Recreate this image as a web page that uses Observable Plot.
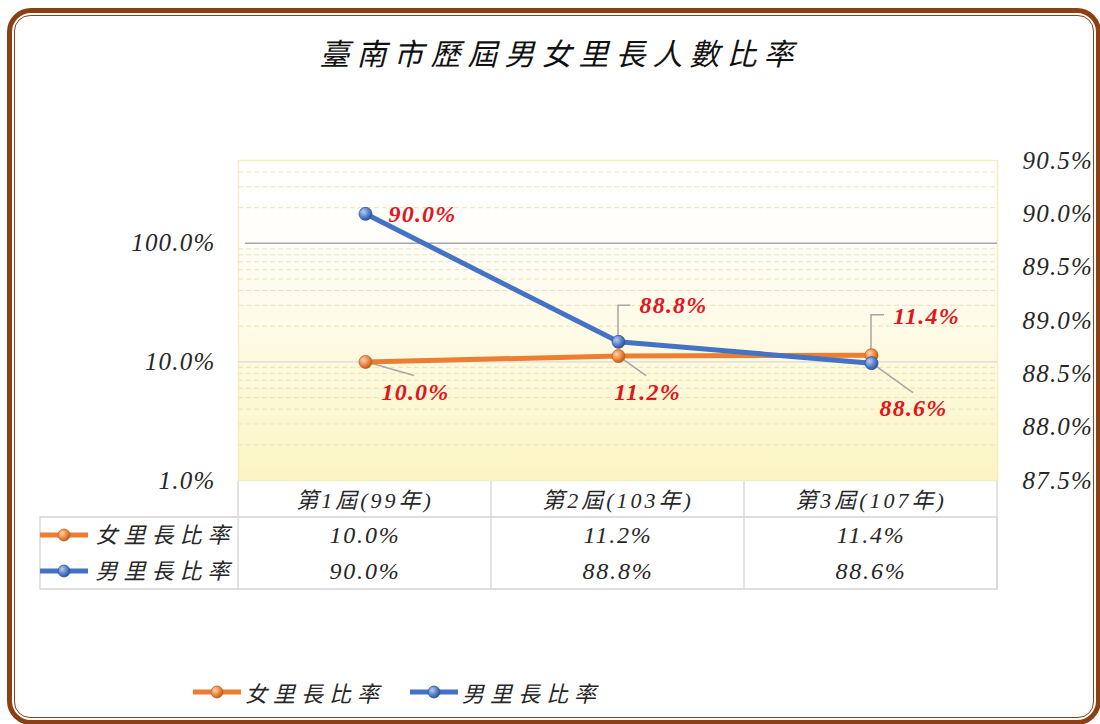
<!DOCTYPE html>
<html>
<head>
<meta charset="utf-8">
<script src="https://cdn.jsdelivr.net/npm/d3@7"></script>
<script src="https://cdn.jsdelivr.net/npm/@observablehq/plot@0.6"></script>
<style>
  html, body { margin: 0; padding: 0; background: #ffffff; }
  #page { position: relative; width: 1100px; height: 724px; overflow: hidden; background: #fff; }
  .abs { position: absolute; }
  #title { left: 0; width: 1120px; top: 30px; text-align: center; font-family: "Noto Sans CJK TC", sans-serif; font-style: italic; font-size: 30px; letter-spacing: 7px; color: #111; }
  #outer { left: 7px; top: 8px; width: 1094px; height: 717px; box-sizing: border-box; border: 5px solid #8b3f12; border-radius: 24px; pointer-events: none; }
  #inner { left: 14px; top: 15px; width: 1080px; height: 703px; box-sizing: border-box; border: 1.5px solid #8b3f12; border-radius: 16px; pointer-events: none; }
  #legend { left: 0; top: 676px; width: 1100px; height: 30px; }
  .lg { position: absolute; top: 0; display: flex; align-items: center; font-family: "Liberation Serif", "Noto Sans CJK TC", serif; font-style: italic; font-size: 22px; letter-spacing: 6px; color: #262626; }
</style>
</head>
<body>
<svg width="0" height="0" style="position:absolute">
  <defs>
    <linearGradient id="plotBg" x1="0" y1="0" x2="0" y2="1">
      <stop offset="0" stop-color="#ffffff"/>
      <stop offset="0.25" stop-color="#fffefa"/>
      <stop offset="1" stop-color="#fbf5c4"/>
    </linearGradient>
    <radialGradient id="gOrange" cx="0.35" cy="0.35" r="0.7">
      <stop offset="0" stop-color="#ffd2ad"/>
      <stop offset="0.55" stop-color="#ee8a45"/>
      <stop offset="1" stop-color="#b55a1c"/>
    </radialGradient>
    <radialGradient id="gBlue" cx="0.35" cy="0.35" r="0.7">
      <stop offset="0" stop-color="#b9cbef"/>
      <stop offset="0.55" stop-color="#5a84cf"/>
      <stop offset="1" stop-color="#2c4f91"/>
    </radialGradient>
  </defs>
</svg>
<div id="page">
  <div id="title" class="abs">臺南市歷屆男女里長人數比率</div>
  <div id="chart" class="abs" style="left:0;top:0;"></div>
  <div id="table" class="abs" style="left:0;top:470px;"></div>
  <div id="legend" class="abs"></div>
  <div id="outer" class="abs"></div>
  <div id="inner" class="abs"></div>
</div>
<script>
// ---------- data ----------
const categories = ["第1屆(99年)", "第2屆(103年)", "第3屆(107年)"];
const seriesNames = ["女里長比率", "男里長比率"];
const femaleValues = [0.100, 0.112, 0.114];
const maleValues = [0.900, 0.888, 0.886];
const leftDomain = [0.01, 5];
const leftTicks = [0.01, 0.1, 1];
const rightDomain = [0.875, 0.905];
const rightTicks = [0.875, 0.880, 0.885, 0.890, 0.895, 0.900, 0.905];

// ---------- style config ----------
const ORANGE = "#ed7d31", BLUE = "#4472c4", RED = "#e3141b", INK = "#262626";
const FONT = '"Liberation Serif", "Noto Sans CJK TC", serif';
const fmt = d3.format(".1%");
// label offsets (px) and leader paths relative to each point
const femaleLabelStyle = [
  {dx: 50, dy: 30, leader: [[0, 0], [49, 14]]},
  {dx: 29, dy: 36, leader: [[0, 0], [28, 20]]},
  {dx: 55, dy: -39, leader: [[0, 0], [0, -40], [13, -40]]}
];
const maleLabelStyle = [
  {dx: 57, dy: 0, leader: null},
  {dx: 55, dy: -37, leader: [[0, 0], [0, -36], [12, -36]]},
  {dx: 42, dy: 45, leader: [[0, 0], [42, 30]]}
];

// map right-axis values into the left (log) scale's space
const leftNorm = d3.scaleLog().domain(leftDomain).range([0, 1]);
const rightNorm = d3.scaleLinear().domain(rightDomain).range([0, 1]);
const toLeft = v => leftNorm.invert(rightNorm(v));

const female = categories.map((c, i) => ({cat: c, v: femaleValues[i], y: femaleValues[i]}));
const male = categories.map((c, i) => ({cat: c, v: maleValues[i], y: toLeft(maleValues[i])}));
const minorTicks = d3.scaleLog().domain(leftDomain).ticks()
  .filter(t => !leftTicks.some(m => Math.abs(m - t) < 1e-9) && t < leftDomain[1] - 1e-9);

function leaders(index, scales) {
  const g = d3.create("svg:g").attr("fill", "none").attr("stroke", "#a6a6a6").attr("stroke-width", 1.5);
  const add = (data, styles) => data.forEach((d, i) => {
    const s = styles[i];
    if (!s.leader) return;
    const px = scales.x(d.cat), py = scales.y(d.y);
    g.append("path").attr("d", "M" + s.leader.map(([a, b]) => `${px + a},${py + b}`).join("L"));
  });
  add(female, femaleLabelStyle);
  add(male, maleLabelStyle);
  return g.node();
}

const labelMarks = [];
[[female, femaleLabelStyle], [male, maleLabelStyle]].forEach(([data, styles]) => {
  data.forEach((d, i) => {
    labelMarks.push(Plot.text([d], {
      x: "cat", y: "y", text: dd => fmt(dd.v),
      dx: styles[i].dx, dy: styles[i].dy,
      fill: RED, fontWeight: "bold", fontSize: 24, fontFamily: FONT, fontStyle: "italic"
    }));
  });
});

const chart = Plot.plot({
  width: 1100, height: 500,
  marginTop: 160, marginBottom: 20, marginLeft: 238, marginRight: 103,
  x: {type: "point", domain: categories, padding: 0.5, axis: null},
  y: {type: "log", domain: leftDomain, axis: null, label: null},
  style: {fontFamily: FONT, fontStyle: "italic", fontSize: "25px", color: INK, background: "transparent", overflow: "visible", letterSpacing: "1.2px"},
  marks: [
    Plot.frame({fill: "url(#plotBg)", stroke: "#f4edc0", strokeWidth: 1.5}),
    Plot.ruleY(minorTicks, {stroke: "#efe3b3", strokeDasharray: "5,3", strokeWidth: 1}),
    Plot.ruleY([0.1], {stroke: "#d9d9d9", strokeWidth: 1.2}),
    Plot.ruleY([1], {stroke: "#a6a6a6", strokeWidth: 1.5, insetLeft: 7}),
    // left axis (log) labels
    Plot.text(leftTicks, {y: d => d, frameAnchor: "left", dx: -23, textAnchor: "end", text: fmt, fill: INK, fontSize: 25}),
    // right axis (linear, secondary) labels
    Plot.text(rightTicks, {y: toLeft, frameAnchor: "right", dx: 25, textAnchor: "start", text: fmt, fill: INK, fontSize: 25}),
    leaders,
    Plot.line(female, {x: "cat", y: "y", stroke: ORANGE, strokeWidth: 5}),
    Plot.line(male, {x: "cat", y: "y", stroke: BLUE, strokeWidth: 5}),
    Plot.dot(female, {x: "cat", y: "y", r: 6.5, fill: "url(#gOrange)", stroke: "#c0601f", strokeWidth: 0.8}),
    Plot.dot(male, {x: "cat", y: "y", r: 6.5, fill: "url(#gBlue)", stroke: "#2f5597", strokeWidth: 0.8}),
    ...labelMarks
  ]
});
document.getElementById("chart").append(chart);

// ---------- data table ----------
const tableRows = ["header", ...seriesNames];
const seriesColors = [ORANGE, BLUE];
const seriesGrads = ["url(#gOrange)", "url(#gBlue)"];
function tableGrid(index, scales) {
  const x = scales.x, y = scales.y;
  const bw = x(categories[1]) - x(categories[0]);
  const rh = y(tableRows[1]) - y(tableRows[0]);
  const x0 = x(categories[0]), xEnd = x(categories[categories.length - 1]) + bw;
  const yTop = y(tableRows[0]), yData = y(tableRows[1]), yEnd = y(tableRows[tableRows.length - 1]) + rh;
  const labelLeft = x0 - 198;
  const g = d3.create("svg:g");
  const lines = g.append("g").attr("stroke", "#d4d4d4").attr("stroke-width", 1.3).attr("fill", "none");
  lines.append("path").attr("d", `M${labelLeft},${yData}H${xEnd}V${yEnd}H${labelLeft}Z`);
  categories.forEach(c => lines.append("path").attr("d", `M${x(c)},${yTop}V${yEnd}`));
  lines.append("path").attr("d", `M${xEnd},${yTop}V${yEnd}`);
  seriesNames.forEach((s, i) => {
    const cy = y(s) + rh / 2;
    g.append("line").attr("x1", labelLeft).attr("x2", labelLeft + 48).attr("y1", cy).attr("y2", cy)
      .attr("stroke", seriesColors[i]).attr("stroke-width", 5);
    g.append("circle").attr("cx", labelLeft + 24).attr("cy", cy).attr("r", 6)
      .attr("fill", seriesGrads[i]).attr("stroke", i ? "#2f5597" : "#c0601f").attr("stroke-width", 0.8);
  });
  return g.node();
}
const tableCells = [];
seriesNames.forEach((s, si) => {
  const vals = si === 0 ? femaleValues : maleValues;
  categories.forEach((c, ci) => tableCells.push({cat: c, row: s, v: vals[ci]}));
});
const table = Plot.plot({
  width: 1100, height: 130,
  marginTop: 10, marginBottom: 10, marginLeft: 238, marginRight: 103,
  x: {type: "band", domain: categories, padding: 0, axis: null},
  y: {type: "band", domain: tableRows, padding: 0, axis: null},
  style: {fontFamily: FONT, fontStyle: "italic", fontSize: "22px", color: INK, background: "transparent", overflow: "visible"},
  marks: [
    tableGrid,
    Plot.text(categories, {x: d => d, y: () => "header", fill: INK, fontSize: 22, dy: 1, className: "hdr"}),
    Plot.text(tableCells, {x: "cat", y: "row", text: d => fmt(d.v), fill: INK, fontSize: 24, className: "val"}),
    Plot.text(seriesNames, {y: d => d, frameAnchor: "left", dx: -143, textAnchor: "start", fill: INK, fontSize: 22, className: "rowlab"})
  ]
});
table.querySelectorAll(".hdr text").forEach(t => t.setAttribute("letter-spacing", "3"));
table.querySelectorAll(".val text").forEach(t => t.setAttribute("letter-spacing", "1.8"));
table.querySelectorAll(".rowlab text").forEach(t => t.setAttribute("letter-spacing", "6"));
document.getElementById("table").append(table);

// ---------- bottom legend ----------
const legend = document.getElementById("legend");
const legendPos = [193, 410];
seriesNames.forEach((s, i) => {
  const item = document.createElement("div");
  item.className = "lg";
  item.style.left = legendPos[i] + "px";
  item.innerHTML = `<svg width="52" height="30"><line x1="0" x2="48" y1="15" y2="15" stroke="${seriesColors[i]}" stroke-width="5"/><circle cx="24" cy="15" r="6" fill="${seriesGrads[i]}" stroke="${i ? "#2f5597" : "#c0601f"}" stroke-width="0.8"/></svg><span>${s}</span>`;
  legend.append(item);
});
</script>
</body>
</html>
